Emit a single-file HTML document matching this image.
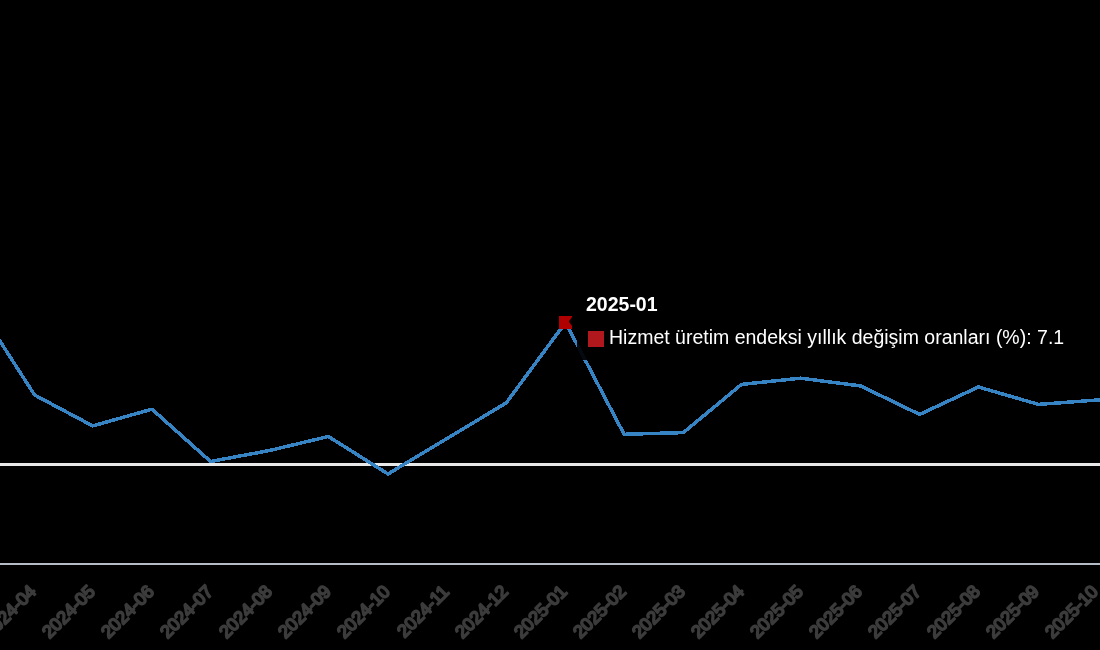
<!DOCTYPE html>
<html><head><meta charset="utf-8"><style>
html,body{margin:0;padding:0;background:#000;width:1100px;height:650px;overflow:hidden}
svg{display:block}
.ov{position:absolute;left:0;top:0;will-change:transform}
text{font-family:"Liberation Sans",sans-serif}
</style></head><body>
<svg width="1100" height="650" viewBox="0 0 1100 650">
<rect width="1100" height="650" fill="#000"/>
<rect x="0" y="463" width="1100" height="3" fill="#e8e8e8"/>
<rect x="0" y="563" width="1100" height="2" fill="#b6bcc6"/>
<path d="M -24.4 303.3 L 34.6 395.0 L 92.7 425.9 L 152 409.2 L 210.5 461.5 L 269.5 450.5 L 328.4 436.5 L 388 474.0 L 447 438.5 L 506.2 402.9 L 565.5 322.5 L 624.1 434.3 L 683.4 432.6 L 741.5 384.4 L 800.5 378.2 L 860.5 385.9 L 919.6 414.4 L 978.4 387.0 L 1038.5 404.4 L 1097.5 400.0 L 1156.5 395.6" fill="none" stroke="#3684c4" stroke-width="3.5" shape-rendering="crispEdges" stroke-linejoin="round"/>
<rect x="559" y="316" width="13" height="13" fill="#b00000"/>
<path d="M577 283 H1080 V360 H577 V333 L568.8 321.5 L577 310 Z" fill="#000" fill-opacity="0.92"/>
<rect x="588" y="331" width="16" height="16" fill="#b0181e"/>
</svg>
<svg class="ov" width="1100" height="650" viewBox="0 0 1100 650">
<g fill="#3b3b3b" stroke="#3b3b3b" stroke-width="1.9" stroke-linejoin="round" font-size="18">
<text x="37.2" y="592.6" transform="rotate(-45 37.2 592.6)" text-anchor="end">2024-04</text>
<text x="96.2" y="592.6" transform="rotate(-45 96.2 592.6)" text-anchor="end">2024-05</text>
<text x="155.2" y="592.6" transform="rotate(-45 155.2 592.6)" text-anchor="end">2024-06</text>
<text x="214.2" y="592.6" transform="rotate(-45 214.2 592.6)" text-anchor="end">2024-07</text>
<text x="273.2" y="592.6" transform="rotate(-45 273.2 592.6)" text-anchor="end">2024-08</text>
<text x="332.2" y="592.6" transform="rotate(-45 332.2 592.6)" text-anchor="end">2024-09</text>
<text x="391.2" y="592.6" transform="rotate(-45 391.2 592.6)" text-anchor="end">2024-10</text>
<text x="450.2" y="592.6" transform="rotate(-45 450.2 592.6)" text-anchor="end">2024-11</text>
<text x="509.2" y="592.6" transform="rotate(-45 509.2 592.6)" text-anchor="end">2024-12</text>
<text x="568.2" y="592.6" transform="rotate(-45 568.2 592.6)" text-anchor="end">2025-01</text>
<text x="627.2" y="592.6" transform="rotate(-45 627.2 592.6)" text-anchor="end">2025-02</text>
<text x="686.2" y="592.6" transform="rotate(-45 686.2 592.6)" text-anchor="end">2025-03</text>
<text x="745.2" y="592.6" transform="rotate(-45 745.2 592.6)" text-anchor="end">2025-04</text>
<text x="804.2" y="592.6" transform="rotate(-45 804.2 592.6)" text-anchor="end">2025-05</text>
<text x="863.2" y="592.6" transform="rotate(-45 863.2 592.6)" text-anchor="end">2025-06</text>
<text x="922.2" y="592.6" transform="rotate(-45 922.2 592.6)" text-anchor="end">2025-07</text>
<text x="981.2" y="592.6" transform="rotate(-45 981.2 592.6)" text-anchor="end">2025-08</text>
<text x="1040.2" y="592.6" transform="rotate(-45 1040.2 592.6)" text-anchor="end">2025-09</text>
<text x="1099.2" y="592.6" transform="rotate(-45 1099.2 592.6)" text-anchor="end">2025-10</text>
</g>
<text x="586" y="311" fill="#fff" font-size="19.5" font-weight="bold">2025-01</text>
<text x="609" y="344" fill="#fff" font-size="19.5">Hizmet üretim endeksi yıllık değişim oranları (%): 7.1</text>
</svg>
</body></html>
